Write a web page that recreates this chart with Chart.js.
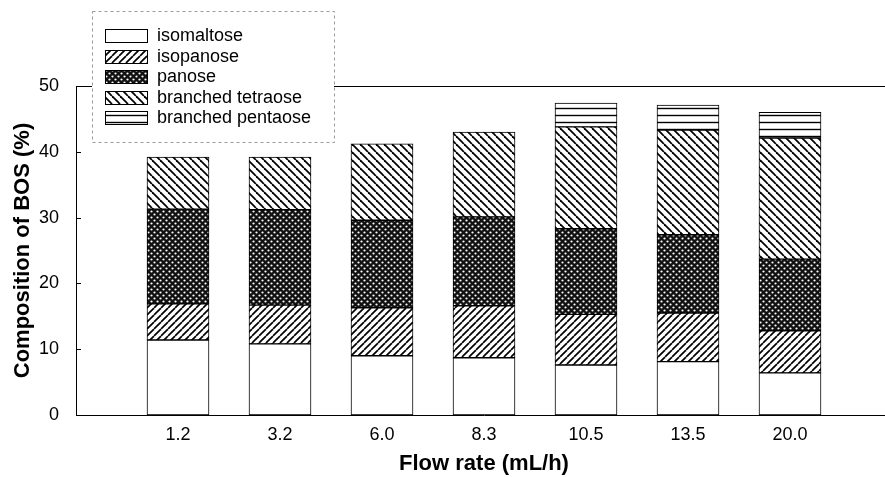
<!DOCTYPE html>
<html>
<head>
<meta charset="utf-8">
<script src="https://cdn.jsdelivr.net/npm/chart.js@4/dist/chart.umd.min.js"></script>
<style>
  html, body { margin:0; padding:0; background:#fff; overflow:hidden; width:885px; height:477px; }
</style>
</head>
<body>
<canvas id="c" width="893" height="477"></canvas>
<script>
// data (% of BOS)
const flowRates  = ['1.2', '3.2', '6.0', '8.3', '10.5', '13.5', '20.0'];
const isomaltose = [11.4, 10.8, 9.0, 8.7, 7.6, 8.1, 6.4];
const isopanose  = [5.5, 5.9, 7.3, 7.9, 7.7, 7.4, 6.4];
const panose     = [14.4, 14.5, 13.3, 13.5, 13.0, 11.9, 10.9];
const tetraose   = [7.9, 8.0, 11.6, 12.9, 15.5, 15.9, 18.4];
const pentaose   = [null, null, null, null, 3.6, 3.8, 3.9];
const yTicks     = [0, 10, 20, 30, 40, 50];

const FONT = '"Liberation Sans", Arial, Helvetica, sans-serif';

// empty slot on both sides so the axis runs from 0 to 8 like the original
const labels = ['', ...flowRates, ''];
const pad = arr => [null, ...arr, null];

// hatch patterns
function tile(size, draw){
  const cv = document.createElement('canvas');
  cv.width = size; cv.height = size;
  const g = cv.getContext('2d');
  g.fillStyle = '#fff'; g.fillRect(0, 0, size, size);
  draw(g, size);
  return document.getElementById('c').getContext('2d').createPattern(cv, 'repeat');
}
const patWhite = '#ffffff';
const patFwd = tile(7, (g, s) => {
  g.strokeStyle = '#000'; g.lineWidth = 1.7;
  for (let k = -1; k <= 1; k++){ g.beginPath(); g.moveTo(k*s, s); g.lineTo(k*s + s, 0); g.stroke(); }
});
const patDots = tile(6, (g, s) => {
  g.fillStyle = '#111'; g.fillRect(0, 0, s, s);
  g.fillStyle = '#fff';
  g.beginPath(); g.arc(1.5, 1.5, 1.1, 0, Math.PI*2); g.fill();
  g.beginPath(); g.arc(4.5, 4.5, 1.1, 0, Math.PI*2); g.fill();
});
const patBack = tile(8, (g, s) => {
  g.strokeStyle = '#000'; g.lineWidth = 1.8;
  for (let k = -1; k <= 1; k++){ g.beginPath(); g.moveTo(k*s, 0); g.lineTo(k*s + s, s); g.stroke(); }
});
const patHoriz = tile(7, (g, s) => {
  g.strokeStyle = '#000'; g.lineWidth = 1.4;
  g.beginPath(); g.moveTo(0, 3.5); g.lineTo(s, 3.5); g.stroke();
});

const series = [
  { label: 'isomaltose',        data: isomaltose, bg: patWhite },
  { label: 'isopanose',         data: isopanose,  bg: patFwd },
  { label: 'panose',            data: panose,     bg: patDots },
  { label: 'branched tetraose', data: tetraose,   bg: patBack },
  { label: 'branched pentaose', data: pentaose,   bg: patHoriz }
];

// top frame line + inward y ticks
const frame = {
  id: 'frame',
  afterDatasetsDraw(c){
    const {ctx, chartArea:{left, right, top}} = c;
    const y = c.scales.y;
    ctx.save();
    ctx.strokeStyle = '#000'; ctx.lineWidth = 1;
    ctx.beginPath(); ctx.moveTo(left, top + 0.5); ctx.lineTo(right, top + 0.5); ctx.stroke();
    y.ticks.forEach(t => {
      const py = Math.round(y.getPixelForValue(t.value)) + 0.5;
      ctx.beginPath(); ctx.moveTo(left, py); ctx.lineTo(left + 5, py); ctx.stroke();
    });
    ctx.restore();
  }
};

// legend box sitting over the top frame, like the original
const legendBox = {
  id: 'legendBox',
  afterDraw(c){
    const ctx = c.ctx;
    const x0 = 92, y0 = 11, w = 242, h = 131;
    ctx.save();
    ctx.fillStyle = '#fff'; ctx.fillRect(x0, y0, w, h);
    ctx.strokeStyle = '#9a9a9a'; ctx.lineWidth = 1; ctx.setLineDash([3, 3]);
    ctx.strokeRect(x0 + 0.5, y0 + 0.5, w, h);
    ctx.setLineDash([]);
    ctx.font = '18px ' + FONT;
    ctx.textBaseline = 'middle';
    c.data.datasets.forEach((ds, i) => {
      const cy = Math.round(35 + i * 20.5);
      ctx.fillStyle = ds.backgroundColor;
      ctx.fillRect(105, cy - 6, 42, 13);
      ctx.strokeStyle = '#000';
      ctx.strokeRect(105.5, cy - 5.5, 42, 13);
      ctx.fillStyle = '#000';
      ctx.fillText(ds.label, 157, cy + 1);
    });
    ctx.restore();
  }
};

new Chart(document.getElementById('c'), {
  type: 'bar',
  data: {
    labels: labels,
    datasets: series.map(s => ({
      label: s.label,
      data: pad(s.data),
      backgroundColor: s.bg,
      borderColor: '#000',
      borderWidth: 1,
      borderSkipped: false,
      barThickness: 62
    }))
  },
  options: {
    responsive: false,
    animation: false,
    layout: { padding: { top: 86, right: 0, left: 0, bottom: 0 } },
    scales: {
      x: {
        type: 'category',
        stacked: true,
        offset: false,
        grid: { display: false },
        border: { display: true, color: '#000', width: 1 },
        ticks: { color: '#000', font: { family: FONT, size: 18 }, maxRotation: 0, autoSkip: false, padding: 1 },
        title: { display: true, text: 'Flow rate (mL/h)', color: '#000',
                 font: { family: FONT, size: 22, weight: 'bold' }, padding: { top: 0, bottom: 0 } },
        afterFit: s => { s.height = 62; }
      },
      y: {
        stacked: true,
        min: 0, max: 50,
        grid: { display: false },
        border: { display: true, color: '#000', width: 1 },
        afterBuildTicks: s => { s.ticks = yTicks.map(v => ({ value: v })); },
        ticks: { color: '#000', font: { family: FONT, size: 18 }, padding: 9 },
        title: { display: true, text: 'Composition of BOS (%)', color: '#000',
                 font: { family: FONT, size: 22, weight: 'bold' }, padding: { top: 10, bottom: 0 } },
        afterFit: s => { s.width = 76; }
      }
    },
    plugins: {
      legend: { display: false },
      tooltip: { enabled: false }
    }
  },
  plugins: [frame, legendBox]
});
</script>
</body>
</html>
